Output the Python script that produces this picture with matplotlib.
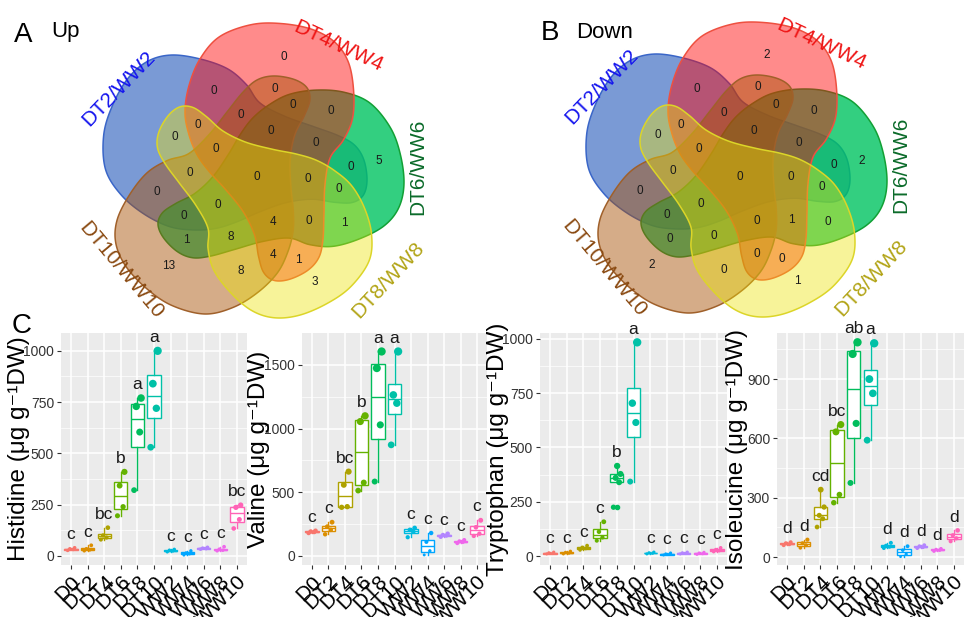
import numpy as np
import matplotlib
matplotlib.use('Agg')
import matplotlib.pyplot as plt
from matplotlib.path import Path
from matplotlib.patches import PathPatch
from matplotlib.colors import to_rgba

plt.rcParams['font.family'] = ['Liberation Sans', 'DejaVu Sans']

# ---------------- Venn data ----------------
set_names = ['DT2/WW2', 'DT4/WW4', 'DT6/WW6', 'DT8/WW8', 'DT10/WW10']
region_keys = ['10000', '01000', '00100', '00010', '00001',
               '11000', '10100', '10010', '10001', '01100', '01010', '01001', '00110', '00101', '00011',
               '11100', '11010', '11001', '10110', '10101', '10011', '01110', '01101', '01011', '00111',
               '11110', '11101', '11011', '10111', '01111',
               '11111']
up_counts = [None, 0, 5, 3, 13,
             0, 0, 0, 0, 0, 1, 0, 1, 1, 8,
             0, 0, 0, 0, 0, 0, 0, 0, 4, 8,
             0, 0, 0, 0, 4,
             0]
down_counts = [None, 2, 2, 1, 2,
               0, 0, 0, 0, 0, 0, 0, 0, 0, 0,
               0, 0, 0, 0, 0, 0, 1, 0, 0, 0,
               0, 0, 0, 0, 0,
               0]

# ---------------- Boxplot data ----------------
groups = ['D0', 'DT2', 'DT4', 'DT6', 'DT8', 'DT10', 'WW2', 'WW4', 'WW6', 'WW8', 'WW10']
histidine = [[27, 32, 35, 40], [25, 30, 35, 52], [80, 90, 100, 138], [196, 240, 343, 410],
             [321, 604, 729, 770], [530, 720, 840, 1000], [20, 25, 28, 32], [4, 10, 15, 25],
             [33, 36, 38, 42], [25, 28, 33, 45], [134, 178, 237, 248]]
valine = [[180, 188, 192, 198], [170, 205, 230, 265], [382, 387, 558, 662], [513, 576, 1055, 1100],
          [584, 1029, 1474, 1605], [872, 1199, 1264, 1605], [147, 190, 205, 220], [8, 40, 110, 180],
          [150, 160, 165, 175], [100, 110, 115, 125], [157, 175, 225, 280]]
tryptophan = [[10, 12, 15, 18], [10, 14, 17, 22], [28, 35, 40, 48], [71, 86, 112, 158],
              [225, 340, 360, 378, 415], [343, 615, 704, 984], [10, 13, 15, 18], [5, 8, 10, 14],
              [10, 12, 15, 18], [8, 11, 14, 17], [20, 25, 30, 38]]
isoleucine = [[60, 65, 70, 75], [47, 60, 70, 88], [152, 194, 211, 253, 341], [275, 316, 633, 670],
              [375, 676, 1027, 1086], [591, 828, 900, 1081], [45, 52, 58, 72], [2, 15, 35, 55],
              [45, 50, 55, 60], [30, 35, 38, 42], [80, 95, 110, 135]]
his_letters = ['c', 'c', 'bc', 'b', 'a', 'a', 'c', 'c', 'c', 'c', 'bc']
val_letters = ['c', 'c', 'bc', 'b', 'a', 'a', 'c', 'c', 'c', 'c', 'c']
try_letters = ['c', 'c', 'c', 'c', 'b', 'a', 'c', 'c', 'c', 'c', 'c']
iso_letters = ['d', 'd', 'cd', 'bc', 'ab', 'a', 'd', 'd', 'd', 'd', 'd']
his_ticks = [0, 250, 500, 750, 1000]
val_ticks = [0, 500, 1000, 1500]
try_ticks = [0, 250, 500, 750, 1000]
iso_ticks = [0, 300, 600, 900]

# ---------------- figure ----------------
FW, FH = 964, 617
fig = plt.figure(figsize=(FW / 100, FH / 100), dpi=100)

def fx(px):
    return px / FW

def fy(py):
    return 1 - py / FH

# outline of one set (pixel frame of panel A, centre of symmetry at 253,182)
shape_pts = np.array([(222, 36), (253, 24), (283, 23), (313, 29), (335, 42), (348, 62), (353, 90),
                      (352, 118), (343, 140), (330, 158), (325, 185), (324, 215), (323, 240),
                      (319, 258), (308, 271), (290, 280), (275, 281), (265, 273), (260, 257),
                      (256, 235), (245, 212), (228, 190), (212, 172), (200, 155), (192, 135),
                      (188, 112), (192, 85), (203, 58)], float)
shape_center = (253, 182)
# extents of each set outline (x0, y0, x1, y1) in panel pixels, panel A
set_boxes = [(103, 55, 367, 230), (185, 23, 354, 281), (158, 90, 404, 258),
             (157, 106, 372, 318), (115, 76, 310, 314)]


def catmull(P, n=24):
    N = len(P)
    out = []
    t = np.linspace(0, 1, n, endpoint=False)[:, None]
    for i in range(N):
        p0, p1, p2, p3 = P[i - 1], P[i], P[(i + 1) % N], P[(i + 2) % N]
        seg = 0.5 * ((2 * p1) + (-p0 + p2) * t + (2 * p0 - 5 * p1 + 4 * p2 - p3) * t ** 2
                     + (-p0 + 3 * p1 - 3 * p2 + p3) * t ** 3)
        out.append(seg)
    return np.vstack(out)


base_rel = np.column_stack([shape_pts[:, 0] - shape_center[0], shape_center[1] - shape_pts[:, 1]])
base_curve = catmull(base_rel)

set_angles = [72, 0, -72, -144, 144]
fills = ['#0d47b4', '#ff0303', '#00c460', '#ece209', '#a85207']
alphas = [0.55, 0.46, 0.8, 0.41, 0.48]
edges = ['#3a66c8', '#ee5040', '#12a035', '#dcd528', '#a0602a']
name_colors = ['#1515ee', '#ee1515', '#0b6b2a', '#b2a416', '#8a4a12']
draw_order = [0, 2, 1, 4, 3]
name_offsets = [(-134, -93, 46), (85, -136, -25), (165, -15, 90), (135, 98, 47), (-132, 88, -50)]


def pole(mask):
    """Deep point of a region that stays close to the region's centroid."""
    depth = np.zeros(mask.shape, int)
    m = mask
    while m.any():
        depth += m
        e = m.copy()
        e[1:, :] &= m[:-1, :]
        e[:-1, :] &= m[1:, :]
        e[:, 1:] &= m[:, :-1]
        e[:, :-1] &= m[:, 1:]
        m = e
    ys0, xs0 = np.nonzero(mask)
    mx, my = xs0.mean(), ys0.mean()
    ys, xs = np.nonzero(depth >= 0.6 * depth.max())
    k = np.argmin((xs - mx) ** 2 + (ys - my) ** 2)
    return xs[k], ys[k]


def draw_venn(ax, center, shift, counts, w, h):
    cx, cy = center
    shapes = []
    for ang, box in zip(set_angles, set_boxes):
        t = np.deg2rad(ang)
        R = np.array([[np.cos(t), -np.sin(t)], [np.sin(t), np.cos(t)]])
        rc = base_curve @ R.T
        xy = np.column_stack([shape_center[0] + rc[:, 0], shape_center[1] - rc[:, 1]])
        x0, y0 = xy.min(axis=0)
        x1, y1 = xy.max(axis=0)
        bx0, by0, bx1, by1 = box
        xs = bx0 + (xy[:, 0] - x0) * (bx1 - bx0) / (x1 - x0) + shift[0]
        ys = by0 + (xy[:, 1] - y0) * (by1 - by0) / (y1 - y0) + shift[1]
        shapes.append(np.column_stack([xs, ys]))
    for i in draw_order:
        xy = np.vstack([shapes[i], shapes[i][:1]])
        ax.add_patch(PathPatch(Path(xy, closed=True), facecolor=to_rgba(fills[i], alphas[i]),
                               edgecolor=edges[i], lw=1.1))
    gx, gy = np.meshgrid(np.arange(w) + 0.5, np.arange(h) + 0.5)
    pts = np.column_stack([gx.ravel(), gy.ravel()])
    inside = [Path(s).contains_points(pts).reshape(gy.shape) for s in shapes]
    for key, cnt in zip(region_keys, counts):
        if cnt is None:
            continue
        mask = np.ones(gy.shape, bool)
        for b, ins in zip(key, inside):
            mask &= ins if b == '1' else ~ins
        if not mask.any():
            continue
        px, py = pole(mask)
        ax.text(px + 0.5, py + 0.5, str(cnt), ha='center', va='center', fontsize=8.5,
                color='#1a1a1a', zorder=5)
    for name, col, (dx, dy, rot) in zip(set_names, name_colors, name_offsets):
        ax.text(cx + dx, cy + dy, name, color=col, fontsize=15, rotation=rot,
                ha='center', va='center', rotation_mode='anchor')


axA = fig.add_axes([0, fy(330), fx(480), 330 / FH])
axA.set_xlim(0, 480)
axA.set_ylim(330, 0)
axA.axis('off')
draw_venn(axA, (253, 182), (0, 0), up_counts, 480, 330)

axB = fig.add_axes([fx(480), fy(330), fx(484), 330 / FH])
axB.set_xlim(0, 484)
axB.set_ylim(330, 0)
axB.axis('off')
draw_venn(axB, (256, 180), (3, -1), down_counts, 484, 330)

fig.text(fx(14), fy(42), 'A', fontsize=20, va='baseline')
fig.text(fx(51), fy(37), 'Up', fontsize=16, va='baseline')
fig.text(fx(541), fy(40), 'B', fontsize=20, va='baseline')
fig.text(fx(576), fy(38), 'Down', fontsize=16, va='baseline')
fig.text(fx(12), fy(333), 'C', fontsize=20, va='baseline')

# ---------------- boxplots ----------------
hue = ["#F8766D", "#DB8E00", "#AEA200", "#64B200", "#00BD5C", "#00C1A7",
       "#00BADE", "#00A6FF", "#B385FF", "#EF67EB", "#FF63B6"]
jit = [-0.2, 0.14, -0.07, 0.22, 0.02]

panels = [
    ('Histidine', histidine, his_letters, his_ticks, (-44, 1087), 61, 247, 19),
    ('Valine', valine, val_letters, val_ticks, (-71, 1750), 302, 487, 259),
    ('Tryptophan', tryptophan, try_letters, try_ticks, (-41, 1027), 540, 727, 498),
    ('Isoleucine', isoleucine, iso_letters, iso_ticks, (-40, 1133), 777, 964, 737),
]
top, bot = 333, 565
for name, vals, letters, ticks, ylim, x0, x1, tx in panels:
    ax = fig.add_axes([fx(x0), fy(bot), (x1 - x0) / FW, (bot - top) / FH])
    ax.set_facecolor('#EBEBEB')
    for s in ax.spines.values():
        s.set_visible(False)
    ax.set_xlim(0.4, 11.6)
    ax.set_ylim(*ylim)
    step = ticks[1] - ticks[0]
    ax.set_yticks(ticks)
    minors = [t + step / 2 for t in [ticks[0] - step] + ticks if ylim[0] < t + step / 2 < ylim[1]]
    ax.set_yticks(minors, minor=True)
    ax.grid(which='major', color='white', lw=1.1)
    ax.grid(which='minor', axis='y', color='white', lw=0.5)
    ax.set_axisbelow(True)
    pos = np.arange(1, 12)
    bp = ax.boxplot(vals, positions=pos, widths=0.8, patch_artist=True, showcaps=False,
                    whis=1.5, manage_ticks=False)
    for i in range(11):
        c = hue[i]
        bp['boxes'][i].set(facecolor='white', edgecolor=c, lw=1.0, zorder=2)
        bp['medians'][i].set(color=c, lw=1.0, zorder=2.5)
        for wk in bp['whiskers'][2 * i:2 * i + 2]:
            wk.set(color=c, lw=1.0)
        bp['fliers'][i].set(marker='o', markerfacecolor=c, markeredgecolor=c, markersize=3)
    span = ylim[1] - ylim[0]
    for i, v in enumerate(vals):
        v = np.asarray(v, float)
        xs = pos[i] + np.array(jit[:len(v)])
        d = 2.5 + 6.0 * np.sqrt(np.clip(v, 0, None) / ylim[1])
        ax.scatter(xs, v, s=(d * 0.72) ** 2, color=hue[i], zorder=3, linewidths=0)
        ax.text(pos[i], v.max() + 0.025 * span, letters[i], ha='center', va='bottom',
                fontsize=12.5, color='#1a1a1a', zorder=4)
    ax.set_xticks(pos)
    ax.set_xticklabels(groups, rotation=45, ha='right', va='top', rotation_mode='anchor',
                       fontsize=15, color='black')
    ax.tick_params(axis='y', labelsize=10, labelcolor='#333333', length=3, width=0.8,
                   color='#333333', pad=2)
    ax.tick_params(axis='x', length=3, width=0.8, color='#333333', pad=2)
    ax.tick_params(which='minor', length=0)
    fig.text(fx(tx), fy((top + bot) / 2), f'{name} (μg g⁻¹DW)', rotation=90,
             ha='center', va='center', fontsize=17.5)

fig.savefig('out.png', dpi=100)
